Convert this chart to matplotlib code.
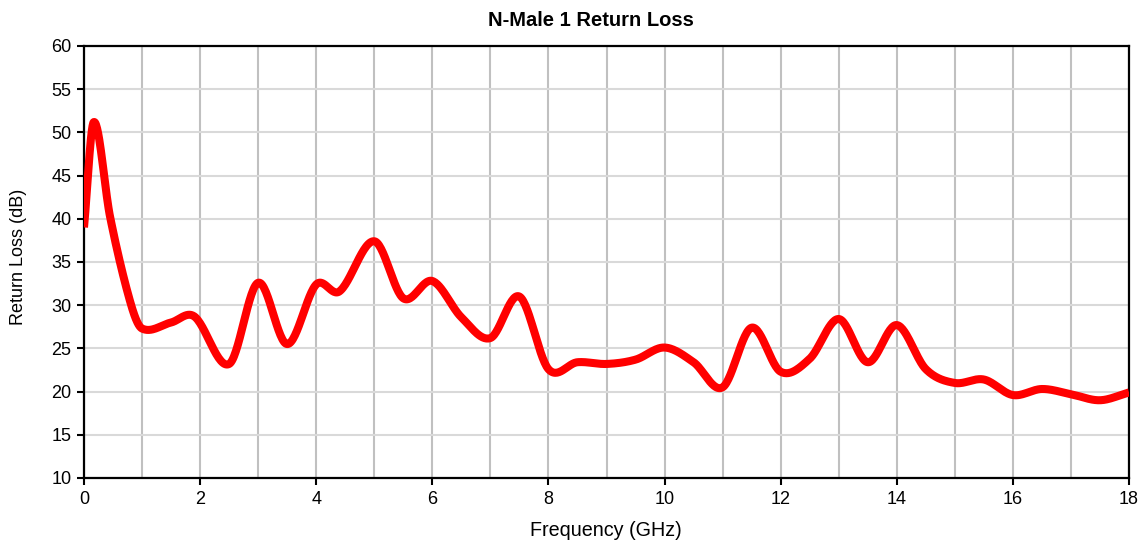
import numpy as np
import matplotlib
matplotlib.use("Agg")
import matplotlib.pyplot as plt
from matplotlib.ticker import MultipleLocator

plt.rcParams['font.family'] = ['Liberation Sans', 'DejaVu Sans']

freq_ghz = [0.0, 0.17, 0.45, 0.8, 1.0, 1.5, 1.9, 2.5, 3.0, 3.5, 4.0, 4.4,
            5.0, 5.5, 6.0, 6.5, 7.0, 7.5, 8.0, 8.5, 9.0, 9.5, 10.0, 10.5, 11.0,
            11.5, 12.0, 12.5, 13.0, 13.5, 14.0, 14.5, 15.0, 15.5, 16.0, 16.5,
            17.0, 17.5, 18.0]
return_loss_db = [39.0, 51.2, 40.2, 30.3, 27.3, 28.0, 28.7, 23.2, 32.6,
                  25.5, 32.4, 31.6, 37.4, 30.8, 32.8, 28.6, 26.2, 31.0, 22.6, 23.4,
                  23.2, 23.7, 25.1, 23.4, 20.5, 27.4, 22.3, 23.8, 28.4, 23.4, 27.7,
                  22.6, 21.0, 21.4, 19.6, 20.3, 19.7, 19.0, 19.9]
title = "N-Male 1 Return Loss"
x_label = "Frequency (GHz)"
y_label = "Return Loss (dB)"


def smooth_line(xs, ys, n=30):
    """Excel-like smoothed line: cubic Hermite with Catmull-Rom tangents."""
    xs = np.asarray(xs, float)
    ys = np.asarray(ys, float)
    m = np.zeros_like(ys)
    m[1:-1] = (ys[2:] - ys[:-2]) / (xs[2:] - xs[:-2])
    m[0] = (ys[1] - ys[0]) / (xs[1] - xs[0])
    m[-1] = (ys[-1] - ys[-2]) / (xs[-1] - xs[-2])
    ox, oy = [], []
    for i in range(len(xs) - 1):
        h = xs[i + 1] - xs[i]
        t = np.linspace(0, 1, n, endpoint=False)
        h00 = 2 * t**3 - 3 * t**2 + 1
        h10 = t**3 - 2 * t**2 + t
        h01 = -2 * t**3 + 3 * t**2
        h11 = t**3 - t**2
        ox.extend(xs[i] + t * h)
        oy.extend(h00 * ys[i] + h10 * h * m[i] + h01 * ys[i + 1] + h11 * h * m[i + 1])
    ox.append(xs[-1])
    oy.append(ys[-1])
    return np.array(ox), np.array(oy)


fig = plt.figure(figsize=(11.41, 5.44), dpi=100)
ax = fig.add_axes([84 / 1141, 1 - 478 / 544, (1129 - 84) / 1141, (478 - 46) / 544])

sx, sy = smooth_line(freq_ghz, return_loss_db)
ax.plot(sx, sy, color='#FF0000', lw=5.8, solid_capstyle='butt', solid_joinstyle='round', zorder=3)

ax.set_xlim(0, 18)
ax.set_ylim(10, 60)
ax.xaxis.set_major_locator(MultipleLocator(2))
ax.xaxis.set_minor_locator(MultipleLocator(1))
ax.yaxis.set_major_locator(MultipleLocator(5))

ax.grid(True, which='major', axis='y', color='#d9d9d9', lw=1.5, zorder=0)
ax.grid(True, which='both', axis='x', color='#c0c0c0', lw=1.5, zorder=0)
ax.set_axisbelow(True)

for s in ax.spines.values():
    s.set_color('black')
    s.set_linewidth(1.6)

ax.tick_params(axis='both', which='major', direction='out', length=5, width=1.5,
               labelsize=13, colors='black', pad=4)
ax.tick_params(axis='x', which='minor', length=0)

fig.text(591 / 1141, 1 - 21 / 544, title, fontsize=14.5, fontweight='bold',
         ha='center', va='center')
fig.text(606 / 1141, 1 - 530 / 544, x_label, fontsize=14.2, ha='center', va='center')
fig.text(19 / 1141, 1 - 257 / 544, y_label, fontsize=13, ha='center', va='center',
         rotation=90)

fig.savefig("out.png", dpi=100, facecolor='white')
